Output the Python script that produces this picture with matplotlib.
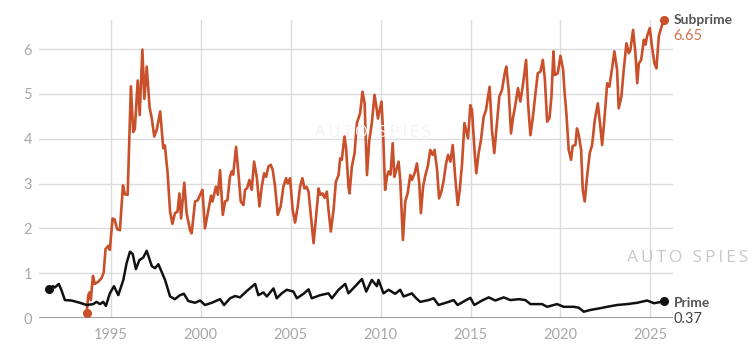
import matplotlib
matplotlib.use("Agg")
import matplotlib.pyplot as plt

# ---- data ----
prime_years = [1991.57, 1991.79, 1991.88, 1992.10, 1992.25, 1992.44, 1992.81, 1993.27, 1993.65,
               1994.02, 1994.20, 1994.39, 1994.57, 1994.72, 1994.94, 1995.17, 1995.41, 1995.69,
               1995.87, 1996.06, 1996.21, 1996.39, 1996.58, 1996.80, 1996.99, 1997.13, 1997.27,
               1997.45, 1997.64, 1997.82, 1998.01, 1998.29, 1998.56, 1998.84, 1999.06, 1999.30,
               1999.68, 1999.96, 2000.23, 2000.61, 2001.07, 2001.29, 2001.63, 2001.90, 2002.18,
               2002.55, 2003.02, 2003.20, 2003.48, 2003.67, 2004.04, 2004.22, 2004.50, 2004.78,
               2005.15, 2005.34, 2005.71, 2005.99, 2006.17, 2006.64, 2007.10, 2007.29, 2007.66,
               2008.03, 2008.21, 2008.59, 2008.96, 2009.20, 2009.51, 2009.79, 2009.88, 2010.16,
               2010.44, 2010.81, 2011.09, 2011.28, 2011.74, 2011.93, 2012.20, 2012.67, 2012.95,
               2013.22, 2013.78, 2014.06, 2014.28, 2014.71, 2014.99, 2015.21, 2015.64, 2016.01,
               2016.38, 2016.84, 2017.22, 2017.68, 2018.05, 2018.33, 2018.98, 2019.26, 2019.81,
               2020.18, 2020.74, 2021.02, 2021.30, 2021.67, 2022.23, 2022.60, 2023.15, 2023.71,
               2024.27, 2024.82, 2025.20, 2025.75]
prime_vals = [0.64, 0.71, 0.68, 0.76, 0.62, 0.40, 0.39, 0.34, 0.29,
              0.31, 0.36, 0.31, 0.36, 0.27, 0.55, 0.71, 0.51, 0.85,
              1.22, 1.48, 1.43, 1.09, 1.29, 1.35, 1.50, 1.33, 1.16,
              1.11, 1.20, 1.03, 0.85, 0.48, 0.42, 0.51, 0.54, 0.38,
              0.34, 0.39, 0.29, 0.34, 0.42, 0.29, 0.44, 0.49, 0.46,
              0.60, 0.76, 0.51, 0.57, 0.48, 0.66, 0.44, 0.55, 0.63,
              0.59, 0.44, 0.54, 0.64, 0.44, 0.51, 0.55, 0.44, 0.63,
              0.76, 0.55, 0.71, 0.87, 0.59, 0.85, 0.71, 0.85, 0.55,
              0.63, 0.54, 0.63, 0.48, 0.55, 0.46, 0.36, 0.40, 0.44,
              0.29, 0.36, 0.40, 0.29, 0.39, 0.45, 0.29, 0.39, 0.46,
              0.39, 0.46, 0.40, 0.42, 0.40, 0.31, 0.31, 0.25, 0.31,
              0.25, 0.25, 0.23, 0.14, 0.18, 0.22, 0.25, 0.29, 0.31,
              0.34, 0.39, 0.33, 0.37]

sub_years = [1993.65, 1993.74, 1993.80, 1993.88, 1994.00, 1994.10, 1994.30, 1994.48, 1994.60,
             1994.70, 1994.85, 1994.94, 1995.09, 1995.20, 1995.35, 1995.50, 1995.67, 1995.78,
             1995.93, 1996.11, 1996.24, 1996.33, 1996.49, 1996.60, 1996.75, 1996.86, 1996.99,
             1997.15, 1997.27, 1997.41, 1997.55, 1997.74, 1997.91, 1998.00, 1998.15, 1998.29,
             1998.42, 1998.56, 1998.70, 1998.81, 1998.90, 1999.08, 1999.21, 1999.40, 1999.49,
             1999.58, 1999.68, 1999.83, 1999.96, 2000.09, 2000.23, 2000.42, 2000.57, 2000.65,
             2000.84, 2000.95, 2001.07, 2001.22, 2001.35, 2001.48, 2001.62, 2001.72, 2001.80,
             2001.96, 2002.09, 2002.22, 2002.37, 2002.46, 2002.58, 2002.70, 2002.83, 2002.96,
             2003.11, 2003.26, 2003.39, 2003.52, 2003.63, 2003.76, 2003.89, 2004.00, 2004.13,
             2004.28, 2004.44, 2004.59, 2004.74, 2004.83, 2004.96, 2005.11, 2005.24, 2005.39,
             2005.52, 2005.65, 2005.76, 2005.88, 2005.99, 2006.14, 2006.27, 2006.40, 2006.55,
             2006.65, 2006.77, 2006.88, 2007.01, 2007.10, 2007.23, 2007.38, 2007.51, 2007.66,
             2007.75, 2007.84, 2007.99, 2008.08, 2008.21, 2008.27, 2008.40, 2008.55, 2008.68,
             2008.77, 2008.86, 2008.99, 2009.11, 2009.24, 2009.37, 2009.51, 2009.66, 2009.75,
             2009.85, 2009.93, 2010.05, 2010.14, 2010.25, 2010.35, 2010.44, 2010.55, 2010.67,
             2010.76, 2010.87, 2011.00, 2011.09, 2011.24, 2011.37, 2011.50, 2011.65, 2011.74,
             2011.89, 2012.02, 2012.15, 2012.24, 2012.36, 2012.49, 2012.62, 2012.76, 2012.89,
             2013.00, 2013.14, 2013.25, 2013.38, 2013.51, 2013.64, 2013.75, 2013.88, 2014.01,
             2014.16, 2014.29, 2014.40, 2014.53, 2014.66, 2014.75, 2014.86, 2014.99, 2015.08,
             2015.23, 2015.32, 2015.45, 2015.58, 2015.73, 2015.86, 2016.06, 2016.19, 2016.32,
             2016.47, 2016.60, 2016.75, 2016.90, 2016.99, 2017.12, 2017.25, 2017.36, 2017.49,
             2017.64, 2017.77, 2017.90, 2018.09, 2018.20, 2018.33, 2018.46, 2018.61, 2018.74,
             2018.89, 2019.02, 2019.13, 2019.26, 2019.39, 2019.50, 2019.61, 2019.68, 2019.85,
             2020.00, 2020.15, 2020.22, 2020.33, 2020.46, 2020.59, 2020.68, 2020.83, 2020.92,
             2021.02, 2021.15, 2021.24, 2021.35, 2021.48, 2021.63, 2021.76, 2021.91, 2022.08,
             2022.22, 2022.32, 2022.45, 2022.60, 2022.72, 2022.87, 2023.00, 2023.15, 2023.24,
             2023.39, 2023.52, 2023.67, 2023.80, 2023.89, 2024.04, 2024.17, 2024.27, 2024.36,
             2024.49, 2024.64, 2024.73, 2024.82, 2024.97, 2025.10, 2025.23, 2025.34, 2025.47,
             2025.60, 2025.75]
sub_vals = [0.12, 0.50, 0.57, 0.40, 0.94, 0.76, 0.81, 0.89, 1.02,
            1.54, 1.61, 1.52, 2.22, 2.20, 1.98, 1.96, 2.96, 2.76,
            2.75, 5.17, 4.15, 4.22, 5.30, 4.53, 5.99, 4.89, 5.61,
            4.70, 4.46, 4.05, 4.20, 4.61, 3.79, 3.85, 3.25, 2.37,
            2.10, 2.34, 2.37, 2.78, 2.22, 3.02, 2.34, 1.96, 1.89,
            2.22, 2.60, 2.63, 2.75, 2.86, 2.00, 2.41, 2.73, 2.60,
            2.93, 2.75, 3.30, 2.30, 2.60, 2.63, 3.15, 3.27, 3.20,
            3.82, 3.23, 2.60, 2.52, 2.86, 2.90, 3.08, 2.86, 3.49,
            3.15, 2.49, 2.93, 3.23, 3.15, 3.38, 3.42, 3.30, 2.93,
            2.30, 2.49, 2.93, 3.12, 3.00, 3.12, 2.41, 2.13, 2.49,
            2.93, 3.12, 2.89, 2.93, 2.82, 2.19, 1.67, 2.22, 2.89,
            2.75, 2.78, 2.68, 2.82, 2.41, 1.93, 2.41, 3.04, 3.19,
            3.56, 3.53, 4.05, 3.79, 2.93, 2.78, 3.38, 3.68, 4.35,
            4.46, 4.57, 5.05, 4.79, 3.19, 3.97, 4.35, 4.98, 4.75,
            4.45, 4.60, 4.83, 4.10, 2.86, 3.15, 3.27, 3.20, 3.90,
            3.15, 3.30, 3.49, 3.08, 1.74, 2.60, 2.78, 3.19, 3.08,
            3.23, 3.45, 3.00, 2.34, 2.93, 3.19, 3.38, 3.75, 3.64,
            3.75, 3.30, 2.67, 2.82, 3.08, 3.45, 3.64, 3.49, 3.86,
            3.08, 2.52, 2.86, 3.45, 4.35, 4.20, 4.01, 4.75, 4.64,
            3.68, 3.23, 3.68, 3.97, 4.49, 4.64, 5.16, 4.20, 3.68,
            4.35, 4.94, 5.09, 5.46, 5.61, 5.09, 4.12, 4.46, 4.75,
            5.13, 4.83, 5.16, 5.76, 4.79, 4.08, 4.46, 5.01, 5.46,
            5.50, 5.76, 5.35, 4.38, 4.46, 4.94, 5.95, 5.42, 5.46,
            5.85, 5.54, 5.09, 4.57, 3.75, 3.53, 3.84, 3.86, 4.23,
            4.08, 3.75, 2.86, 2.60, 3.15, 3.68, 3.86, 4.42, 4.79,
            4.27, 3.86, 4.46, 5.24, 5.16, 5.57, 5.95, 5.54, 4.68,
            4.94, 5.54, 6.13, 5.91, 5.98, 6.43, 5.91, 5.24, 5.68,
            5.76, 6.21, 6.10, 6.29, 6.47, 6.03, 5.68, 5.57, 6.29,
            6.47, 6.65]

x_ticks = [1995, 2000, 2005, 2010, 2015, 2020, 2025]
y_ticks = [0, 1, 2, 3, 4, 5, 6]
sub_label = "Subprime"
prime_label = "Prime"
watermark = "AUTO SPIES"

SUB_C = "#c9502a"
PRIME_C = "#111111"

plt.rcParams['font.family'] = ['Lato', 'DejaVu Sans']

fig = plt.figure(figsize=(7.53, 3.59), dpi=100)
ax = fig.add_axes([39/753, 41/359, (673-39)/753, (318-20)/359])

ax.plot(sub_years, sub_vals, color=SUB_C, lw=1.9, solid_joinstyle='round', zorder=3)
ax.plot(prime_years, prime_vals, color=PRIME_C, lw=1.8, solid_joinstyle='round', zorder=4)

# start / end dots
for xs, ys, c in [(sub_years, sub_vals, SUB_C), (prime_years, prime_vals, PRIME_C)]:
    ax.plot([xs[0], xs[-1]], [ys[0], ys[-1]], 'o', color=c, ms=5.5, zorder=5, clip_on=False)

ax.set_xlim(1991.0, 2026.26)
ax.set_ylim(0, 6.65)
ax.set_xticks(x_ticks)
ax.set_yticks(y_ticks)
ax.grid(True, color='#dcdcdc', lw=1.0)
ax.set_axisbelow(True)
ax.axhline(0, color='#8a8a8a', lw=1.2, zorder=2)
for s in ax.spines.values():
    s.set_visible(False)
ax.tick_params(axis='both', length=0, labelcolor='#a8a8a8', labelsize=10.5)
ax.tick_params(axis='x', pad=7)
ax.tick_params(axis='y', pad=5)

# labels at the end of lines
ax.annotate(sub_label, (sub_years[-1], sub_vals[-1]), xytext=(7, 0), textcoords='offset points',
            ha='left', va='center', fontsize=10, fontweight='bold', color='#555555', annotation_clip=False)
ax.annotate(f"{sub_vals[-1]:.2f}", (sub_years[-1], sub_vals[-1]), xytext=(7, -11.5), textcoords='offset points',
            ha='left', va='center', fontsize=10.5, color='#d4704a', annotation_clip=False)
ax.annotate(prime_label, (prime_years[-1], prime_vals[-1]), xytext=(7, -1), textcoords='offset points',
            ha='left', va='center', fontsize=10, fontweight='bold', color='#555555', annotation_clip=False)
ax.annotate(f"{prime_vals[-1]:.2f}", (prime_years[-1], prime_vals[-1]), xytext=(7, -12.5), textcoords='offset points',
            ha='left', va='center', fontsize=10.5, color='#444444', annotation_clip=False)

# watermarks
spaced = "\u2009".join(watermark)
fig.text(627/753, 1 - 258/359, spaced, ha='left', va='center', fontsize=12.5,
         color='#c8c8c8', family=['Open Sans', 'DejaVu Sans'])
fig.text(315/753, 1 - 133/359, spaced, ha='left', va='center', fontsize=12,
         color='#f3f3f3', family=['Open Sans', 'DejaVu Sans'], zorder=0)

fig.savefig("out.png", dpi=100)
